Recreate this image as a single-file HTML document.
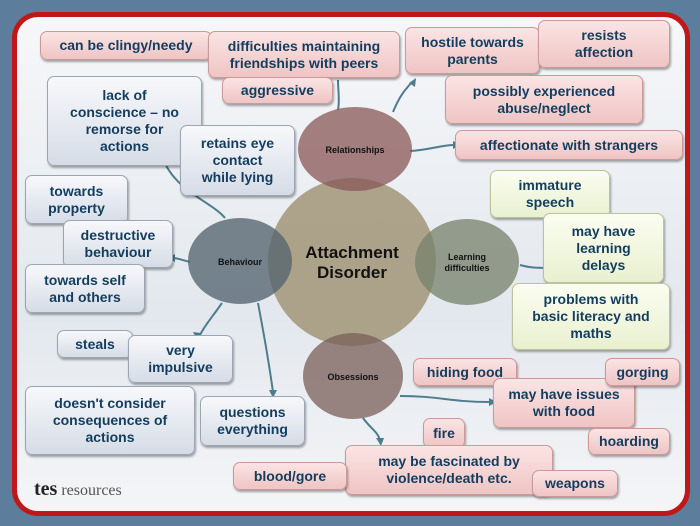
<!DOCTYPE html>
<html><head><meta charset="utf-8"><style>
body{margin:0;width:700px;height:526px;background:#5d7d9c;position:relative;overflow:hidden;font-family:"Liberation Sans",sans-serif}
#frame{position:absolute;left:12px;top:12px;width:668px;height:494px;border:5px solid #c01818;border-radius:26px;background:linear-gradient(#f6f7f9,#e3e8ee 60%,#f4f5f7)}
.b{position:absolute;box-sizing:border-box;border-radius:7px;display:flex;align-items:center;justify-content:center;text-align:center;font-weight:bold;font-size:14px;line-height:17px;color:#123d5e;box-shadow:1px 2px 2px rgba(0,0,0,.35)}
.p{background:linear-gradient(#fbe4e4,#efc4c4);border:1px solid #c99}
.g{background:linear-gradient(#f7f8fb,#d6dce6);border:1px solid #9aa6b4}
.y{background:linear-gradient(#fbfdf0,#e9f0d0);border:1px solid #b9c49a}
svg{position:absolute;left:0;top:0}
</style></head><body>
<div id="frame"></div>
<svg width="700" height="526">
<g fill="none" stroke="#4d7c8c" stroke-width="2">
<path d="M225 218 C210 200 170 190 160 150"/><path d="M190 262 C182 260 178 258 172 258"/>
<path d="M222 303 C210 320 205 325 200 335"/><path d="M258 303 C265 340 270 370 273 392"/>
<path d="M393 112 C400 95 405 90 412 82"/><path d="M410 151 C430 150 440 145 455 145"/>
<path d="M338 110 C340 100 338 92 338 80"/><path d="M520 265 C530 268 540 268 552 268"/>
<path d="M400 396 C440 396 450 402 490 402"/><path d="M363 418 C370 428 378 432 380 440"/>
</g>
<g fill="#4d7c8c"><path d="M156 145l-4 8 8 0z"/><path d="M168 258l7-4 0 8z"/><path d="M197 340l-4-8 8 1z"/><path d="M273 398l-4-8 8 0z"/><path d="M416 78l-1 9-6-4z"/><path d="M461 145l-8-4 0 8z"/><path d="M558 268l-8-4 0 8z"/><path d="M497 402l-8-4 0 8z"/><path d="M381 446l-5-8 8 0z"/></g>
<circle cx="352" cy="262" r="84" fill="#a59a7e" opacity=".9"/>
<ellipse cx="355" cy="149" rx="57" ry="42" fill="#8a5757" opacity=".75"/>
<ellipse cx="240" cy="261" rx="52" ry="43" fill="#55646f" opacity=".78"/>
<ellipse cx="467" cy="262" rx="52" ry="43" fill="#75806a" opacity=".75"/>
<ellipse cx="353" cy="376" rx="50" ry="43" fill="#7a5e58" opacity=".75"/>
<g font-family="Liberation Sans" font-weight="bold" text-anchor="middle" fill="#111">
<text x="352" y="258" font-size="17">Attachment</text><text x="352" y="278" font-size="17">Disorder</text>
<text x="355" y="153" font-size="9">Relationships</text><text x="240" y="265" font-size="9">Behaviour</text>
<text x="467" y="260" font-size="9">Learning</text><text x="467" y="271" font-size="9">difficulties</text>
<text x="353" y="380" font-size="9">Obsessions</text>
</g>
</svg>
<div class="b p" style="left:40px;top:31px;width:172px;height:29px">can be clingy/needy</div>
<div class="b p" style="left:208px;top:31px;width:192px;height:47px">difficulties maintaining<br>friendships with peers</div>
<div class="b p" style="left:222px;top:77px;width:111px;height:27px">aggressive</div>
<div class="b p" style="left:405px;top:27px;width:135px;height:47px">hostile towards<br>parents</div>
<div class="b p" style="left:538px;top:20px;width:132px;height:48px">resists<br>affection</div>
<div class="b p" style="left:445px;top:75px;width:198px;height:49px">possibly experienced<br>abuse/neglect</div>
<div class="b p" style="left:455px;top:130px;width:228px;height:30px">affectionate with strangers</div>
<div class="b g" style="left:47px;top:76px;width:155px;height:90px">lack of<br>conscience – no<br>remorse for<br>actions</div>
<div class="b g" style="left:180px;top:125px;width:115px;height:71px">retains eye<br>contact<br>while lying</div>
<div class="b g" style="left:25px;top:175px;width:103px;height:49px">towards<br>property</div>
<div class="b g" style="left:63px;top:220px;width:110px;height:48px">destructive<br>behaviour</div>
<div class="b g" style="left:25px;top:264px;width:120px;height:49px">towards self<br>and others</div>
<div class="b y" style="left:490px;top:170px;width:120px;height:48px">immature<br>speech</div>
<div class="b y" style="left:543px;top:213px;width:121px;height:70px">may have<br>learning<br>delays</div>
<div class="b y" style="left:512px;top:283px;width:158px;height:67px">problems with<br>basic literacy and<br>maths</div>
<div class="b g" style="left:57px;top:330px;width:76px;height:28px">steals</div>
<div class="b g" style="left:128px;top:335px;width:105px;height:48px">very<br>impulsive</div>
<div class="b g" style="left:25px;top:386px;width:170px;height:69px">doesn't consider<br>consequences of<br>actions</div>
<div class="b g" style="left:200px;top:396px;width:105px;height:50px">questions<br>everything</div>
<div class="b p" style="left:413px;top:358px;width:104px;height:28px">hiding food</div>
<div class="b p" style="left:493px;top:378px;width:142px;height:50px">may have issues<br>with food</div>
<div class="b p" style="left:605px;top:358px;width:75px;height:28px">gorging</div>
<div class="b p" style="left:588px;top:428px;width:82px;height:27px">hoarding</div>
<div class="b p" style="left:423px;top:418px;width:42px;height:30px">fire</div>
<div class="b p" style="left:345px;top:445px;width:208px;height:50px">may be fascinated by<br>violence/death etc.</div>
<div class="b p" style="left:233px;top:462px;width:114px;height:28px">blood/gore</div>
<div class="b p" style="left:532px;top:470px;width:86px;height:27px">weapons</div>
<div style="position:absolute;left:34px;top:478px;font-size:20px;font-weight:bold;color:#222;font-family:'Liberation Serif',serif">tes<span style="font-weight:normal;font-size:16px;color:#555"> resources</span></div>
</body></html>
